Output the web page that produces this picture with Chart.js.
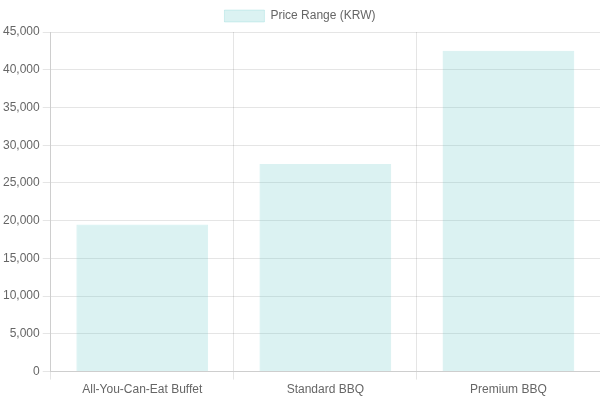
<!DOCTYPE html>
<html>
<head>
<meta charset="utf-8">
<script src="https://cdn.jsdelivr.net/npm/chart.js@4/dist/chart.umd.min.js"></script>
<style>
html,body{margin:0;padding:0;background:#fff;}
#wrap{width:600px;height:400px;}
</style>
</head>
<body>
<div id="wrap"><canvas id="c"></canvas></div>
<script>
const categories = ["All-You-Can-Eat Buffet", "Standard BBQ", "Premium BBQ"];
const priceValues = [19500, 27500, 42500];
const seriesLabel = "Price Range (KRW)";

new Chart(document.getElementById('c'), {
  type: 'bar',
  data: {
    labels: categories,
    datasets: [{
      label: seriesLabel,
      data: priceValues,
      backgroundColor: 'rgba(75,192,192,0.2)',
      borderColor: 'rgba(75,192,192,0.2)',
      borderWidth: 1
    }]
  },
  options: {
    responsive: true,
    maintainAspectRatio: false,
    animation: false,
    scales: {
      y: { beginAtZero: true }
    }
  }
});
</script>
</body>
</html>
